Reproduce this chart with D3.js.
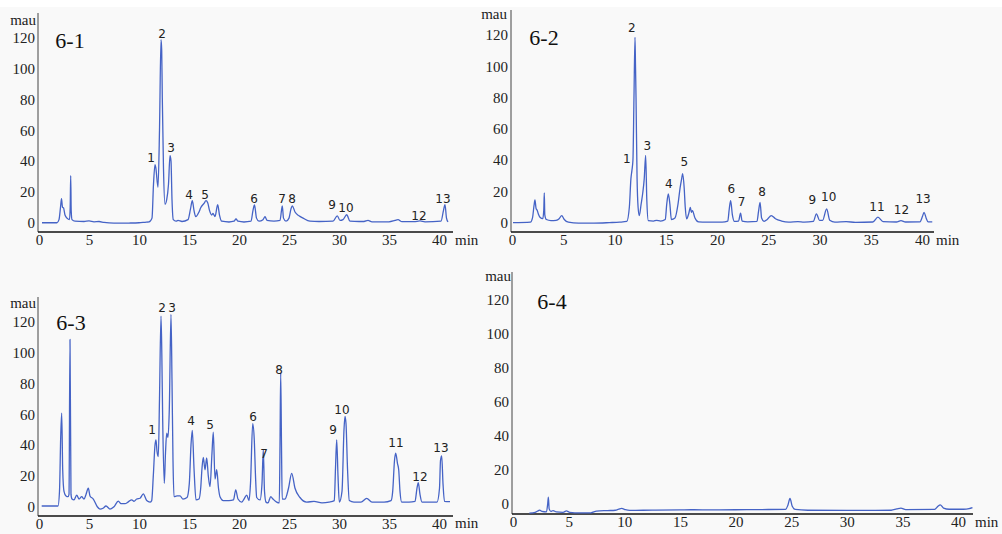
<!DOCTYPE html>
<html><head><meta charset="utf-8">
<script src="https://cdn.jsdelivr.net/npm/d3@7"></script>
<style>
html,body{margin:0;padding:0;background:#fff;}
svg{display:block;}
</style></head>
<body>
<svg id="chart" width="1002" height="534"></svg>
<script>
// ---------- DATA ----------
const xTicks = [0, 5, 10, 15, 20, 25, 30, 35, 40];
const yTicks = [0, 20, 40, 60, 80, 100, 120];
const panelNames = ["6-1", "6-2", "6-3", "6-4"];

// traces: [time (min), absorbance (mau)]
const trace61 = [[0.3,0],[1.8,0],[2.0,2],[2.15,10],[2.25,15.6],[2.35,10],[2.45,9.7],[2.6,5],[2.8,3],[3.05,2],[3.12,10],[3.17,30.5],[3.22,8],[3.3,2],[3.6,1],[4.5,0.8],[5.0,1.2],[5.5,0.6],[6.0,0.8],[6.5,0.2],[7.5,-0.3],[9.0,-0.2],[10.0,0],[10.6,0.3],[11.0,0.5],[11.3,3],[11.45,25],[11.6,37.7],[11.68,35.7],[11.9,23],[12.05,60],[12.2,118.8],[12.27,112],[12.33,81],[12.45,35],[12.6,12],[12.77,15],[12.95,25],[13.1,43.5],[13.2,40],[13.3,15],[13.43,2],[13.7,1],[13.9,1.5],[14.3,0.8],[14.9,2],[15.15,9],[15.33,14.3],[15.5,8],[15.67,4],[16.0,7],[16.17,9.7],[16.5,12.5],[16.7,14.3],[16.87,13],[17.05,8],[17.27,5],[17.4,6],[17.6,4],[17.87,11.7],[18.05,5],[18.27,1],[19.0,0.5],[19.5,1],[19.7,2.5],[19.9,1],[20.5,0.5],[21.2,1],[21.4,8],[21.55,11.5],[21.75,3],[22.0,1],[22.4,2],[22.6,3.9],[22.8,1.5],[23.5,1],[24.1,1.5],[24.25,8],[24.33,11],[24.45,3],[24.7,1],[25.0,3],[25.2,9],[25.33,11],[25.6,7],[26.0,4.5],[26.4,3],[27.1,1],[28,0.8],[29.4,1],[29.83,4.5],[30.1,1.5],[30.4,2],[30.77,5.2],[31.1,1],[32,0.8],[32.5,0.8],[32.9,1.5],[33.3,0.6],[35,0.6],[35.6,1.5],[35.9,2],[36.3,0.7],[37.5,0.7],[38.1,1.2],[38.6,0.6],[40.2,1],[40.45,8],[40.6,11.7],[40.75,3],[40.9,0.5]];

const trace62 = [[0.1,0],[1.8,0.3],[2.0,3],[2.15,11],[2.24,14.5],[2.35,9],[2.45,8],[2.6,5],[2.73,3.4],[3.0,2.5],[3.1,8],[3.15,19],[3.2,5],[3.35,2],[3.8,1.3],[4.3,1.5],[4.6,2.5],[4.85,4.5],[5.1,2],[5.5,0.3],[6.5,-0.3],[8.0,-0.3],[9.5,0],[10.5,0.3],[11.2,0.8],[11.45,10],[11.6,28],[11.7,33.4],[11.8,40],[11.9,80],[12.0,118.5],[12.05,100],[12.1,80],[12.2,29],[12.3,10],[12.42,4.5],[12.6,12],[12.75,18.6],[12.9,28],[13.04,43],[13.15,15],[13.3,1.3],[13.8,1],[14.1,1.5],[14.5,1],[14.95,2],[15.1,12],[15.25,18.4],[15.4,12],[15.55,2],[15.9,3],[16.2,12],[16.4,22.2],[16.55,28],[16.65,31.4],[16.8,22],[16.9,10],[17.04,2.4],[17.25,6],[17.4,9.8],[17.5,6.6],[17.6,7.7],[17.85,3],[18.2,0.5],[19,0.3],[20.5,0.3],[21.05,1],[21.2,9],[21.33,14],[21.5,5],[21.7,0.8],[22.1,1],[22.3,6],[22.45,1],[23,0.5],[23.9,0.8],[24.05,7],[24.2,13],[24.35,3],[24.6,0.8],[24.9,2],[25.3,4.5],[25.7,2.5],[26.3,1],[27,0.3],[27.9,0.6],[28.5,0.3],[29.4,0.8],[29.7,5.6],[30.0,1.5],[30.3,1.5],[30.7,8.8],[31.0,1.5],[31.5,0.3],[32.6,0.6],[33.5,0.2],[35.2,0.4],[35.7,3.5],[36.2,0.6],[37.5,0.4],[37.95,1.3],[38.4,0.4],[39.8,0.5],[40.05,4],[40.2,6.6],[40.4,3],[40.6,0.5],[41.0,0.5]];

const trace63 = [[0.27,0.5],[1.9,0.5],[2.05,10],[2.17,45],[2.27,60.7],[2.37,24],[2.5,10],[2.7,7],[2.9,6.5],[3.0,8],[3.1,108.5],[3.2,8],[3.3,5],[3.5,4.4],[3.77,7.6],[4.0,5],[4.27,6.5],[4.5,5],[4.7,8],[4.93,12],[5.1,7],[5.43,5],[5.83,0],[6.1,-1.5],[6.4,-1],[6.7,0.5],[7.1,-1.5],[7.5,0],[7.93,3.7],[8.2,2],[8.6,2],[8.9,3],[9.27,4.5],[9.5,3.5],[9.77,5],[10.1,5.5],[10.43,8.3],[10.77,4],[11.1,3],[11.27,4],[11.43,20],[11.6,40],[11.7,43.4],[11.8,36],[11.93,32.5],[12.05,70],[12.2,123.6],[12.28,100],[12.37,56],[12.53,15.2],[12.65,35],[12.77,47.7],[12.9,45],[13.03,63],[13.2,124.7],[13.3,82],[13.4,30],[13.5,6.5],[13.8,7],[14.1,7],[14.4,5],[14.8,6],[15.03,15],[15.2,40],[15.33,49.5],[15.5,25],[15.7,4.4],[16.0,5],[16.17,12],[16.3,25],[16.43,32],[16.6,24],[16.77,31.6],[16.93,20],[17.1,13],[17.3,35],[17.43,48.4],[17.6,18],[17.77,24],[17.95,12],[18.1,6.5],[18.43,4],[19.0,4],[19.45,4.5],[19.67,11],[19.9,5],[20.27,3],[20.5,5],[20.77,7.6],[21.0,4],[21.15,15],[21.37,53.8],[21.53,43],[21.65,20],[21.77,6],[22.1,4.4],[22.3,15],[22.43,37],[22.55,10],[22.7,3],[22.9,2.5],[23.17,6.5],[23.4,5],[23.77,3],[24.03,2.5],[24.1,40],[24.17,86.8],[24.25,40],[24.32,5],[24.6,5],[24.95,12],[25.27,21.7],[25.6,12],[26.1,6],[26.77,3],[27.5,3.5],[28.3,2.5],[29.0,3],[29.53,4],[29.65,25],[29.77,43.4],[29.9,20],[30.03,3],[30.3,10],[30.5,50],[30.6,58.6],[30.7,54],[30.85,25],[31.03,4],[31.5,3],[32.2,3],[32.77,5.4],[33.3,3],[34.5,3],[35.2,4],[35.37,10],[35.55,30],[35.67,34.7],[35.85,28],[35.97,24],[36.1,10],[36.27,3],[37.0,3],[37.6,3.5],[37.8,12],[37.93,15.6],[38.1,8],[38.3,3],[39.0,3],[39.8,3],[40.05,12],[40.15,30],[40.27,33],[40.4,15],[40.55,3.5],[41.1,3.3]];

const trace64 = [[1.47,-5.5],[2.0,-5],[2.3,-4],[2.4,-3.7],[2.6,-4.5],[3.0,-4.8],[3.12,0],[3.18,3.9],[3.25,-3],[3.4,-4.5],[3.6,-4],[3.9,-4.8],[4.5,-5],[4.8,-4.2],[5.1,-5],[6.0,-5.3],[7.0,-5.3],[7.5,-4.3],[8.5,-4],[9.2,-3.8],[9.5,-3.2],[9.77,-2.7],[10.1,-3.5],[10.5,-3.9],[12.5,-3.7],[15,-3.6],[16,-3.5],[18,-3.6],[20,-3.5],[22,-3.4],[24.5,-3.3],[24.7,-1],[24.9,3.1],[25.1,-1.5],[25.36,-3.3],[26.5,-3.8],[30,-3.9],[34,-3.8],[34.5,-3],[34.87,-2.5],[35.3,-3.4],[37.9,-3.3],[38.2,-1.5],[38.4,-0.6],[38.7,-2.5],[39.2,-3.2],[40.5,-3.2],[41.0,-2.8],[41.3,-2.2]];

// peak labels: [label, time, mau at label centre]
const peaks61 = [["1",11.2,42.6],["2",12.3,123],["3",13.2,49],["4",15.0,18.6],["5",16.6,18.6],["6",21.5,15.4],["7",24.3,15.4],["8",25.3,15.4],["9",29.3,12.1],["10",30.7,10.2],["12",38.0,5],["13",40.4,15.4]];
const peaks62 = [["1",11.2,40.7],["2",11.7,124.5],["3",13.2,49.6],["4",15.3,25.3],["5",16.8,38.8],["6",21.4,22.1],["7",22.4,13.8],["8",24.4,19.6],["9",29.3,14.5],["10",30.9,16.4],["11",35.6,10.6],["12",38.0,8.1],["13",40.1,15.7]];
const peaks63 = [["1",11.3,49.8],["2",12.3,128.9],["3",13.3,128.9],["4",15.2,55.6],["5",17.1,53.6],["6",21.4,58.8],["7",22.5,34.8],["8",24.0,89.3],["9",29.4,49.8],["10",30.3,62.8],["11",35.7,41.4],["12",38.1,19.3],["13",40.2,38.1]];
const peaks64 = [];

// ---------- LAYOUT ----------
const yDomain = [-6, 136];
const panels = [
  {name: panelNames[0], trace: trace61, peaks: peaks61, x0: 39, x40: 439, xEnd: 453, yB: 232, yT: 13, title: [70, 40], mau: [36, 25], min: [455, 245]},
  {name: panelNames[1], trace: trace62, peaks: peaks62, x0: 512, x40: 922, xEnd: 934, yB: 232, yT: 10, title: [544, 37], mau: [507, 19], min: [936, 245]},
  {name: panelNames[2], trace: trace63, peaks: peaks63, x0: 39, x40: 439, xEnd: 453, yB: 516, yT: 297, title: [71, 322], mau: [36, 308], min: [455, 528]},
  {name: panelNames[3], trace: trace64, peaks: peaks64, x0: 513, x40: 958, xEnd: 973, yB: 514, yT: 272, title: [552, 301], mau: [511, 281], min: [975, 527]}
];

const svg = d3.select("#chart");
svg.append("rect").attr("x", 0).attr("y", 0).attr("width", 1002).attr("height", 534).attr("fill", "#fff");
svg.append("rect").attr("x", 0).attr("y", 7).attr("width", 1002).attr("height", 527).attr("fill", "#f9f9f9");

const serif = '"Liberation Serif"';
const sans = '"DejaVu Sans"';
const lineColor = "#4563c6";

panels.forEach(p => {
  const x = d3.scaleLinear().domain([0, 40]).range([p.x0, p.x40]);
  const y = d3.scaleLinear().domain(yDomain).range([p.yB, p.yT]);
  const g = svg.append("g");

  // y axis
  const ya = g.append("g").attr("transform", `translate(${p.x0 - 1},0)`)
    .call(d3.axisLeft(y).tickValues(yTicks).tickSize(0).tickPadding(3).tickFormat(d3.format("d")));
  ya.attr("font-family", null).attr("font-size", null);
  ya.select(".domain").attr("stroke", "#444").attr("stroke-width", 1)
    .attr("d", `M0,${p.yB}V${p.yT}`);
  ya.selectAll("text").style("font-family", serif).style("font-size", "15px").attr("fill", "#222");

  // x axis
  const xa = g.append("g").attr("transform", `translate(0,${p.yB})`)
    .call(d3.axisBottom(x).tickValues(xTicks).tickSize(0).tickPadding(2).tickFormat(d3.format("d")));
  xa.attr("font-family", null).attr("font-size", null);
  xa.select(".domain").attr("stroke", "#111").attr("stroke-width", 1.6)
    .attr("d", `M${p.x0 - 1},0H${p.xEnd}`);
  xa.selectAll("text").style("font-family", serif).style("font-size", "15px").attr("fill", "#222");

  // units
  g.append("text").attr("x", p.mau[0]).attr("y", p.mau[1]).attr("text-anchor", "end")
    .style("font-family", serif).style("font-size", "15px").attr("fill", "#222").text("mau");
  g.append("text").attr("x", p.min[0]).attr("y", p.min[1])
    .style("font-family", serif).style("font-size", "15px").attr("fill", "#222").text("min");

  // title
  g.append("text").attr("x", p.title[0]).attr("y", p.title[1] + 8).attr("text-anchor", "middle")
    .style("font-family", serif).style("font-size", "22px").attr("fill", "#111").text(p.name);

  // trace
  const line = d3.line().x(d => x(d[0])).y(d => y(d[1])).curve(d3.curveMonotoneX);
  g.append("path").datum(p.trace).attr("d", line)
    .attr("fill", "none").attr("stroke", lineColor).attr("stroke-width", 1.3).attr("stroke-linejoin", "round");

  // peak labels
  g.selectAll(".pk").data(p.peaks).enter().append("text")
    .attr("x", d => x(d[1])).attr("y", d => y(d[2]) + 4.5)
    .attr("text-anchor", "middle").style("font-family", sans).style("font-size", "12px").attr("fill", "#222")
    .text(d => d[0]);
});
</script>
</body></html>
